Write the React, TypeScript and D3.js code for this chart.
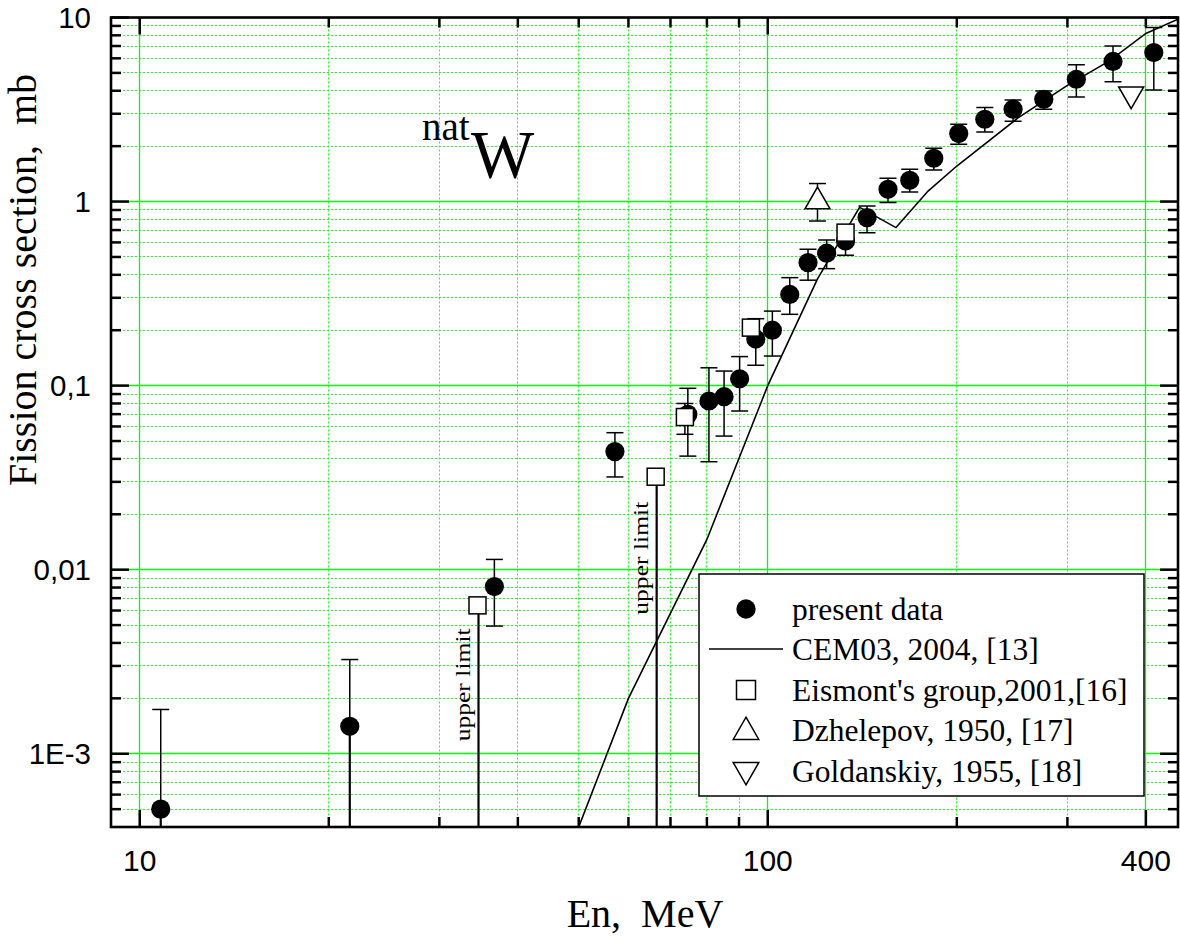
import React from "react";
import * as d3 from "d3";

// present data (filled circles), energy in MeV, cross section in mb
const presentE = [10.8, 21.6, 36.7, 57.1, 74.6, 80.6, 85.2, 90.2, 95.7, 101.7, 108.4, 115.9, 124.1, 133, 143.9, 155.4, 168.3, 183.8, 201.4, 221.6, 245.8, 275.1, 310, 354.6, 411.8];
const presentV = [5.0e-4, 1.41e-3, 8.1e-3, 0.0438, 0.0698, 0.0825, 0.0871, 0.109, 0.179, 0.2, 0.313, 0.466, 0.524, 0.611, 0.818, 1.166, 1.305, 1.719, 2.342, 2.8, 3.175, 3.597, 4.62, 5.77, 6.45];
// lower / upper error bounds (0 = bar goes down to the axis)
const presentLo = [0, 0, 4.94e-3, 0.0319, 0.0414, 0.0386, 0.0532, 0.0728, 0.129, 0.1448, 0.244, 0.374, 0.432, 0.511, 0.678, 0.988, 1.128, 1.485, 2.048, 2.389, 2.73, 3.175, 3.7, 4.47, 4.04];
const presentHi = [1.74e-3, 3.25e-3, 0.01137, 0.0555, 0.0967, 0.125, 0.12, 0.1438, 0.231, 0.254, 0.386, 0.55, 0.619, 0.72, 0.946, 1.338, 1.498, 1.949, 2.63, 3.24, 3.566, 3.99, 5.53, 7.01, 8.82];

// CEM03 calculation
const cemE = [50, 60, 80, 100, 120, 140, 160, 180, 200, 250, 300, 350, 400, 450];
const cemV = [4.0e-4, 2.0e-3, 0.0146, 0.1, 0.38, 0.93, 0.722, 1.14, 1.56, 2.84, 4.28, 5.81, 8.19, 9.79];

// Eismont's group
const eismontE = [34.5, 66.3, 73.8, 94, 133];
const eismontV = [6.4e-3, 0.032, 0.0675, 0.2066, 0.678];
const eismontLo = [null, null, 0.0544, null, null];
const eismontHi = [null, null, 0.08, null, null];
const eismontUpperLimit = [true, true, false, false, false];

// Dzhelepov
const dzhE = [120];
const dzhV = [1.0];
const dzhLo = [0.784];
const dzhHi = [1.253];

// Goldanskiy
const golE = [379];
const golV = [3.83];

const xTicks = [10, 100, 400];
const xTickLabels = ["10", "100", "400"];
const yTicks = [10, 1, 0.1, 0.01, 0.001];
const yTickLabels = ["10", "1", "0,1", "0,01", "1E-3"];

const legendLabels = [
  "present data",
  "CEM03, 2004, [13]",
  "Eismont's group,2001,[16]",
  "Dzhelepov, 1950, [17]",
  "Goldanskiy, 1955, [18]",
];

const SANS = "'Liberation Sans', Arial, sans-serif";
const SERIF = "'Liberation Serif', 'Times New Roman', serif";

const L = 111, R = 1178, T = 17.5, B = 827;

// snap a coordinate to a pixel centre so 1px lines stay crisp
const px = (v: number) => Math.floor(v) + 0.5;

function TriUp({ cx, cy, s = 1 }: { cx: number; cy: number; s?: number }) {
  const w = 12.5 * s, h = 21.7 * s;
  return (
    <path
      d={`M${cx},${cy - (2 * h) / 3}L${cx + w},${cy + h / 3}L${cx - w},${cy + h / 3}Z`}
      fill="#fff"
      stroke="#000"
      strokeWidth={1.5}
    />
  );
}

function TriDown({ cx, cy, s = 1 }: { cx: number; cy: number; s?: number }) {
  const w = 12.5 * s, h = 21.7 * s;
  return (
    <path
      d={`M${cx},${cy + (2 * h) / 3}L${cx + w},${cy - h / 3}L${cx - w},${cy - h / 3}Z`}
      fill="#fff"
      stroke="#000"
      strokeWidth={1.5}
    />
  );
}

function ErrBar({ x, y1, y2, cap = 8.5, w = 1.5 }: { x: number; y1: number; y2: number; cap?: number; w?: number }) {
  return (
    <g stroke="#000" strokeWidth={w}>
      <line x1={x} x2={x} y1={y1} y2={y2} />
      <line x1={x - cap} x2={x + cap} y1={y1} y2={y1} />
      <line x1={x - cap} x2={x + cap} y1={y2} y2={y2} />
    </g>
  );
}

export default function App() {
  const x = d3.scaleLog().domain([9, 450]).range([L, R]);
  const y = d3.scaleLog().domain([4e-4, 10]).range([B, T]);

  const xMinor = x.ticks().filter((t) => !xTicks.includes(t) && t > 9.01 && t < 449);
  const yMinor = y
    .ticks()
    .filter((t) => !yTicks.some((m) => Math.abs(m - t) / m < 1e-6) && t > 4.01e-4 && t < 9.99);

  const line = d3
    .line<number>()
    .x((d, i) => x(cemE[i]))
    .y((d) => y(d));

  const legendBase = 619.5;
  const legendStep = 40.5;
  const symX = 746;

  return (
    <svg
      width={1180}
      height={937}
      style={{ position: "absolute", left: 0, top: 0, background: "#fff" }}
    >
      <defs>
        <clipPath id="plot">
          <rect x={L} y={T} width={R - L} height={B - T} />
        </clipPath>
      </defs>
      <rect x={0} y={0} width={1180} height={937} fill="#fff" />

      {/* grid */}
      <g clipPath="url(#plot)">
        {xMinor.map((t) => (
          <line key={"gx" + t} x1={px(x(t))} x2={px(x(t))} y1={T} y2={B} stroke="#1aff1a" strokeWidth={1} strokeDasharray="2,2" />
        ))}
        {yMinor.map((t) => (
          <line key={"gy" + t} x1={L} x2={R} y1={px(y(t))} y2={px(y(t))} stroke="#1aff1a" strokeWidth={1} strokeDasharray="2,2" />
        ))}
        {xTicks.map((t) => (
          <line key={"GX" + t} x1={px(x(t))} x2={px(x(t))} y1={T} y2={B} stroke="#00ff00" strokeWidth={1.3} />
        ))}
        {yTicks.map((t) => (
          <line key={"GY" + t} x1={L} x2={R} y1={px(y(t))} y2={px(y(t))} stroke="#00ff00" strokeWidth={1.3} />
        ))}
      </g>

      {/* CEM03 line */}
      <g clipPath="url(#plot)">
        <path d={line(cemV) || ""} fill="none" stroke="#000" strokeWidth={1.6} />
      </g>

      {/* upper limit lines and labels */}
      {eismontE.map((e, i) =>
        eismontUpperLimit[i] ? (
          <g key={"ul" + i}>
            <line x1={x(e) + 1} x2={x(e) + 1} y1={y(eismontV[i])} y2={B} stroke="#000" strokeWidth={2.2} />
            <text
              transform={`translate(${x(e) - 8},${y(eismontV[i]) + 23 + i * 2}) rotate(-90)`}
              textAnchor="end"
              fontFamily={SERIF}
              fontSize={21}
              textLength={113}
              lengthAdjust="spacingAndGlyphs"
            >
              upper limit
            </text>
          </g>
        ) : null
      )}

      {/* present data */}
      <g clipPath="url(#plot)">
        {presentE.map((e, i) => {
          const cx = x(e);
          const lo = presentLo[i];
          const hi = presentHi[i];
          if (lo === 0) {
            return (
              <g key={"p" + i}>
                <line x1={cx} x2={cx} y1={y(presentV[i])} y2={B} stroke="#000" strokeWidth={2.2} />
                <line x1={cx} x2={cx} y1={y(hi)} y2={y(presentV[i])} stroke="#000" strokeWidth={1.5} />
                <line x1={cx - 8.5} x2={cx + 8.5} y1={y(hi)} y2={y(hi)} stroke="#000" strokeWidth={1.5} />
              </g>
            );
          }
          return <ErrBar key={"p" + i} x={cx} y1={y(hi)} y2={y(lo)} />;
        })}
        {presentE.map((e, i) => (
          <circle key={"c" + i} cx={x(e)} cy={y(presentV[i])} r={9.6} fill="#000" />
        ))}
      </g>

      {/* Eismont squares */}
      {eismontE.map((e, i) =>
        eismontLo[i] != null ? (
          <ErrBar key={"ee" + i} x={x(e)} y1={y(eismontHi[i] as number)} y2={y(eismontLo[i] as number)} />
        ) : null
      )}
      {eismontE.map((e, i) => (
        <rect
          key={"s" + i}
          x={x(e) - 8.5}
          y={y(eismontV[i]) - 8.5}
          width={17}
          height={17}
          fill="#fff"
          stroke="#000"
          strokeWidth={1.5}
        />
      ))}

      {/* Dzhelepov */}
      {dzhE.map((e, i) => (
        <g key={"d" + i}>
          <ErrBar x={x(e)} y1={y(dzhHi[i])} y2={y(dzhLo[i])} />
          <TriUp cx={x(e)} cy={y(dzhV[i])} />
        </g>
      ))}

      {/* Goldanskiy */}
      {golE.map((e, i) => (
        <TriDown key={"g" + i} cx={x(e)} cy={y(golV[i])} />
      ))}

      {/* axes frame and ticks */}
      <g stroke="#000">
        {xTicks.map((t) => (
          <g key={"tx" + t} strokeWidth={2.5}>
            <line x1={x(t)} x2={x(t)} y1={B} y2={B - 17} />
            <line x1={x(t)} x2={x(t)} y1={T} y2={T + (t === 400 ? 10 : 17)} />
          </g>
        ))}
        {xMinor.map((t) => (
          <g key={"mx" + t} strokeWidth={2.5}>
            <line x1={x(t)} x2={x(t)} y1={B} y2={B - 10} />
            <line x1={x(t)} x2={x(t)} y1={T} y2={T + 10} />
          </g>
        ))}
        {yTicks.map((t) => (
          <g key={"ty" + t} strokeWidth={2.5}>
            <line x1={L} x2={L + 18} y1={y(t)} y2={y(t)} />
            <line x1={R} x2={R - 18} y1={y(t)} y2={y(t)} />
          </g>
        ))}
        {yMinor.map((t) => (
          <g key={"my" + t} strokeWidth={2.5}>
            <line x1={L} x2={L + 10} y1={y(t)} y2={y(t)} />
            <line x1={R} x2={R - 10} y1={y(t)} y2={y(t)} />
          </g>
        ))}
        <rect x={L} y={T} width={R - L} height={B - T} fill="none" strokeWidth={2.6} />
      </g>

      {/* tick labels */}
      {xTicks.map((t, i) => (
        <text key={"lx" + t} x={x(t)} y={871} textAnchor="middle" fontFamily={SANS} fontSize={30}>
          {xTickLabels[i]}
        </text>
      ))}
      {yTicks.map((t, i) => (
        <text key={"ly" + t} x={91} y={y(t) + 10.5} textAnchor="end" fontFamily={SANS} fontSize={29.5}>
          {yTickLabels[i]}
        </text>
      ))}

      {/* axis titles */}
      <text x={645} y={927} textAnchor="middle" fontFamily={SERIF} fontSize={40} style={{ whiteSpace: "pre" }}>
        {"En,  MeV"}
      </text>
      <text
        transform="translate(36,280) rotate(-90)"
        textAnchor="middle"
        fontFamily={SERIF}
        fontSize={40}
        style={{ whiteSpace: "pre" }}
      >
        {"Fission cross section,  mb"}
      </text>

      {/* natW annotation */}
      <text x={422} y={140} fontFamily={SERIF} fontSize={39}>
        nat
      </text>
      <text x={471} y={177} fontFamily={SERIF} fontSize={67}>
        W
      </text>

      {/* legend */}
      <rect x={699} y={574} width={445} height={222} fill="#fff" stroke="#000" strokeWidth={1.5} />
      <circle cx={symX} cy={legendBase - 10.5} r={9.7} fill="#000" />
      <line x1={709} x2={783} y1={legendBase + legendStep - 11} y2={legendBase + legendStep - 11} stroke="#000" strokeWidth={1.6} />
      <rect
        x={symX - 9.5}
        y={legendBase + 2 * legendStep - 10.5 - 9.5}
        width={19}
        height={19}
        fill="#fff"
        stroke="#000"
        strokeWidth={1.5}
      />
      <TriUp cx={symX} cy={legendBase + 3 * legendStep - 9} s={1.02} />
      <TriDown cx={symX} cy={legendBase + 4 * legendStep - 11.5} s={1.02} />
      {legendLabels.map((lab, i) => (
        <text key={"leg" + i} x={792} y={legendBase + i * legendStep} fontFamily={SERIF} fontSize={31.5}>
          {lab}
        </text>
      ))}
    </svg>
  );
}
